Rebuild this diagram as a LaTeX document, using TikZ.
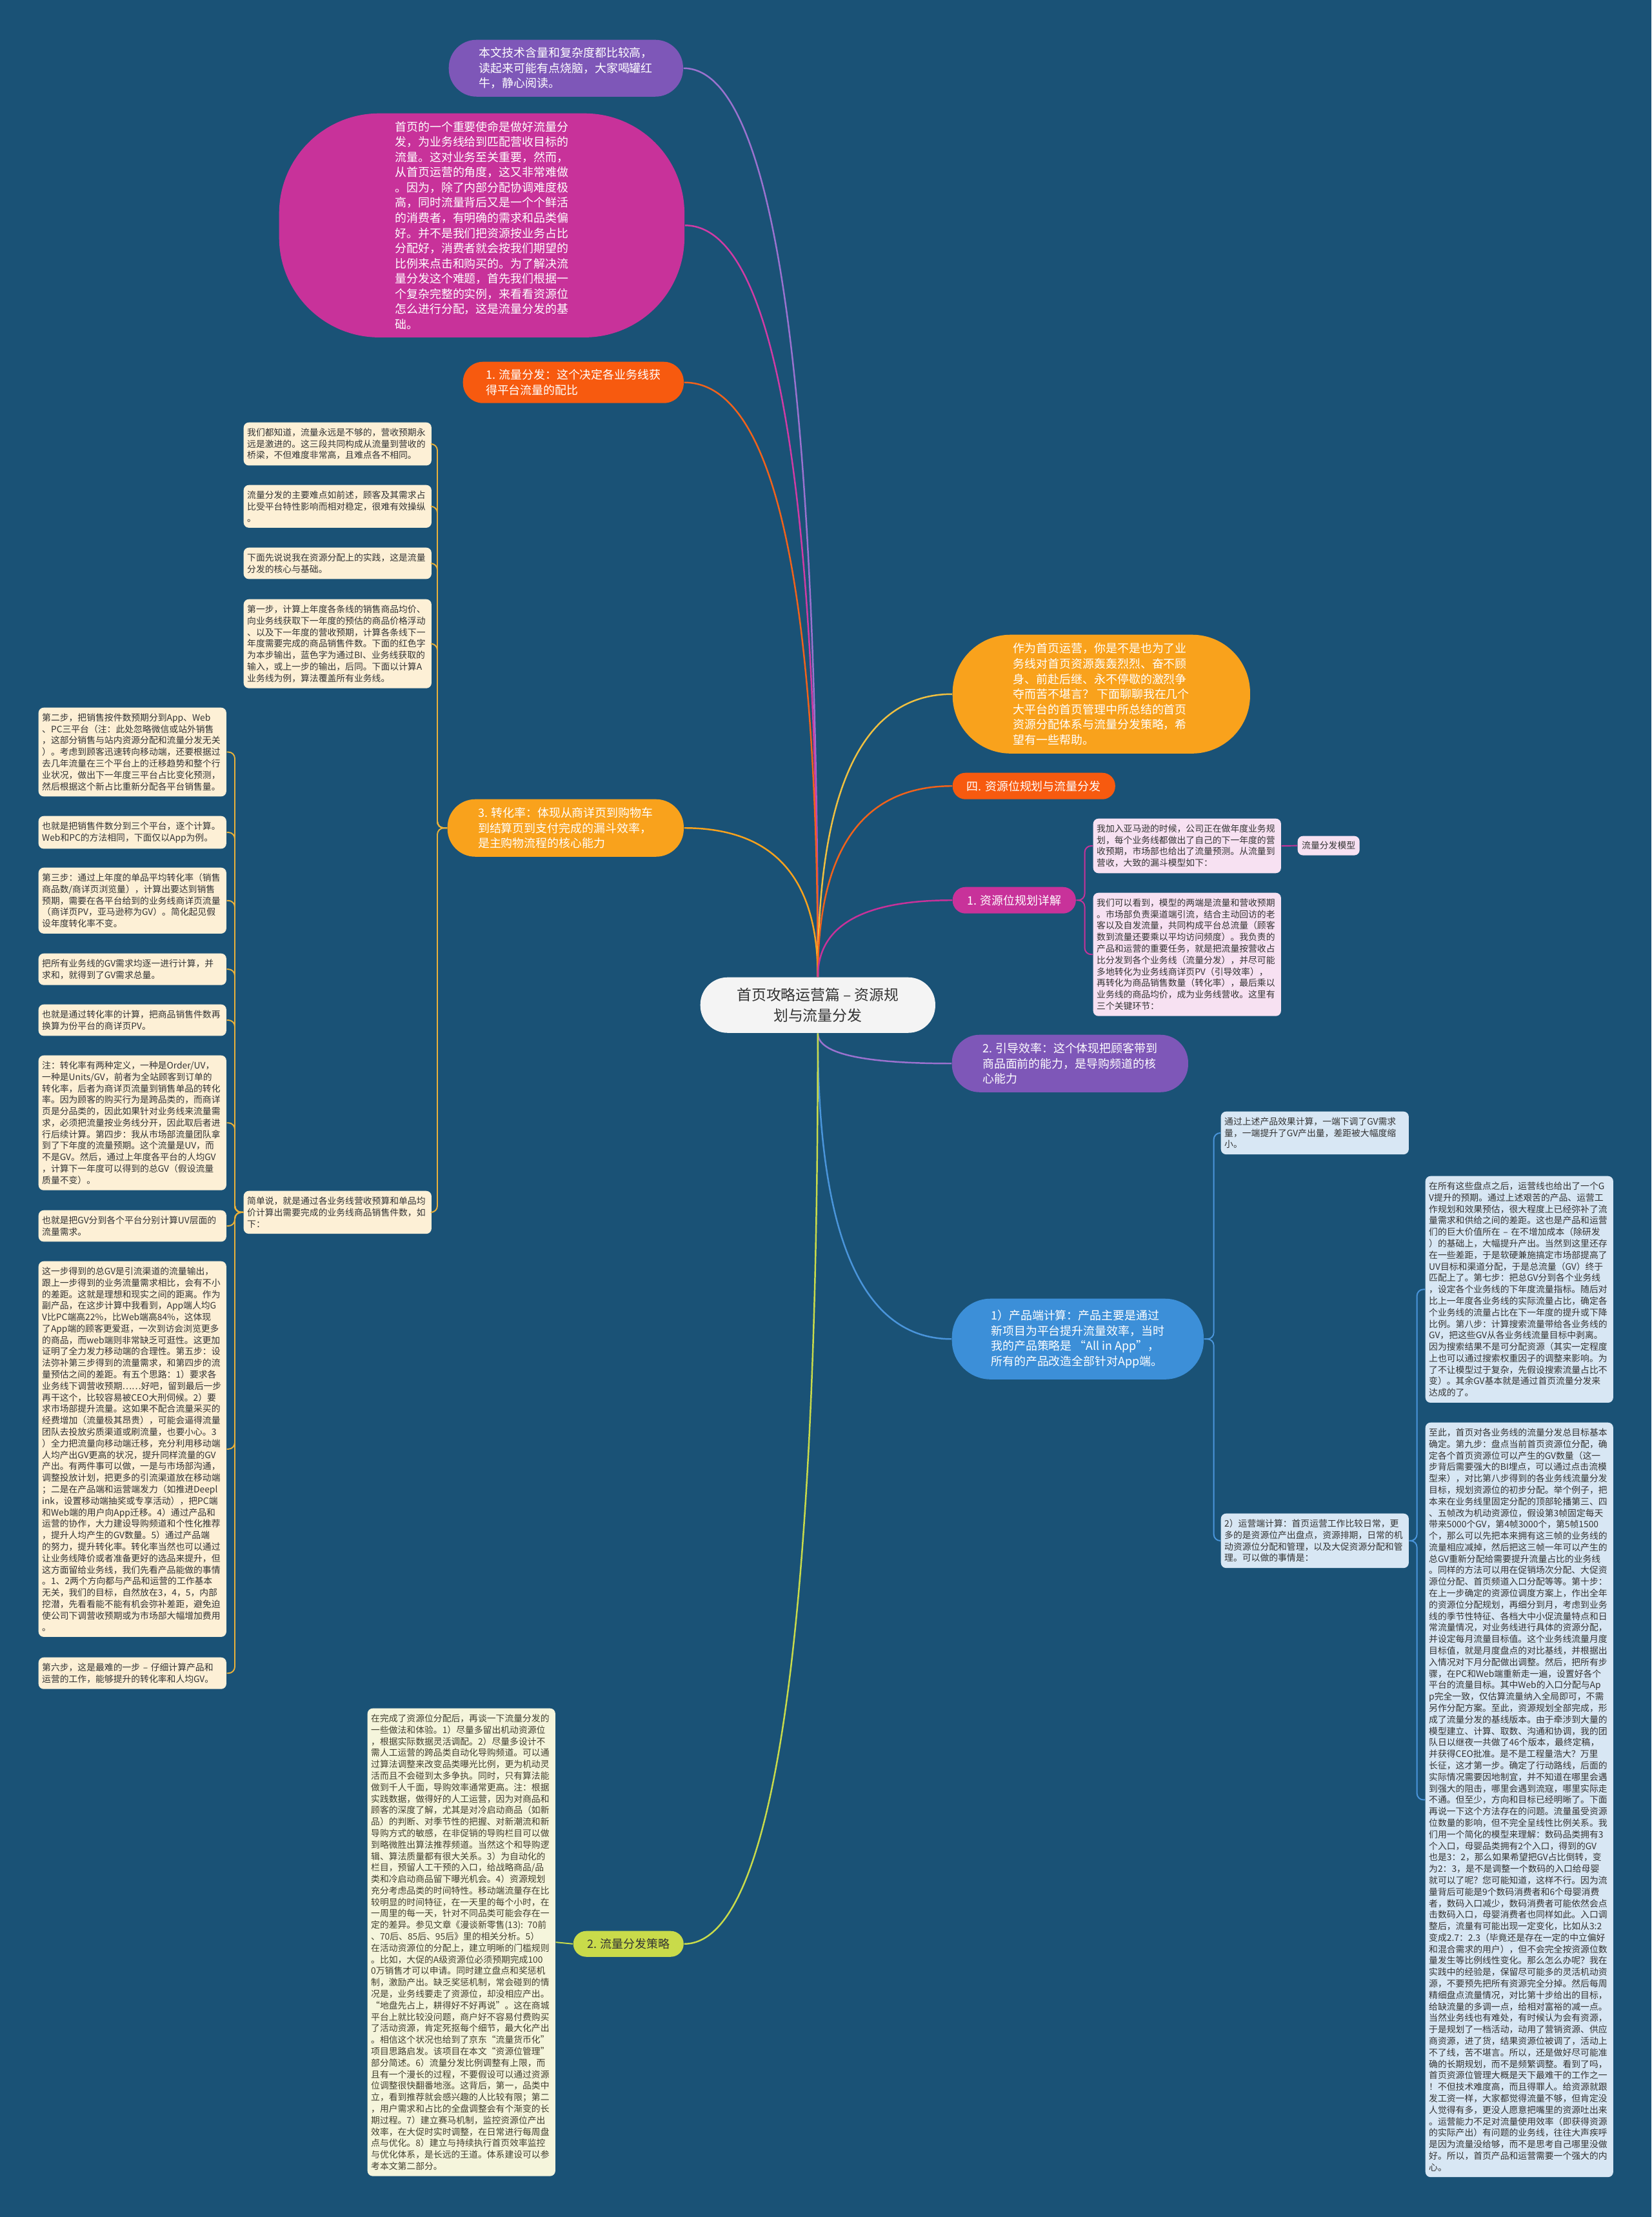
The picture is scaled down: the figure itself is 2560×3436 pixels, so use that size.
\documentclass[tikz,border=0pt]{standalone}
\usepackage{fontspec}
\setmainfont{Noto Sans CJK SC}
\usetikzlibrary{calc}
\definecolor{mapbg}{HTML}{1A5276}
\definecolor{hubwhite}{HTML}{F4F4F4}
\definecolor{inkdark}{HTML}{333333}
\definecolor{tpurple}{HTML}{7E57B8}
\definecolor{tmagenta}{HTML}{C8329A}
\definecolor{tred}{HTML}{F75A0F}
\definecolor{torange}{HTML}{F9A21C}
\definecolor{tblue}{HTML}{3C8FD8}
\definecolor{tlime}{HTML}{C9DB4A}
\definecolor{boxcream}{HTML}{FDF0D6}
\definecolor{boxpink}{HTML}{F7E1F2}
\definecolor{boxblue}{HTML}{D8E7F4}
\definecolor{boxlime}{HTML}{F5F5DC}
\definecolor{lpurple}{HTML}{9B72CF}
\definecolor{lmagenta}{HTML}{D13BA5}
\definecolor{lred}{HTML}{F2621A}
\definecolor{lyellow}{HTML}{F0C040}
\definecolor{lgold}{HTML}{E9B13A}
\definecolor{lblue}{HTML}{4A95DB}
\newcommand{\hubfont}{\fontsize{6.5pt}{9.1pt}\selectfont}
\newcommand{\bubfont}{\fontsize{5.1pt}{6.7pt}\selectfont}
\newcommand{\boxfont}{\fontsize{3.93pt}{5.06pt}\selectfont}
\tikzset{
  bubble/.style={anchor=north west, align=left, text=white, font=\bubfont, inner sep=0pt},
  note/.style={anchor=north west, align=left, text width=2.80cm, inner xsep=0.055cm, inner ysep=0.09cm, rounded corners=0.08cm, font=\boxfont},
  cream/.style={note, fill=boxcream, text=inkdark},
  pinknote/.style={note, fill=boxpink, text=inkdark},
  bluenote/.style={note, fill=boxblue, text=inkdark},
  limenote/.style={note, fill=boxlime, text=black!70!olive},
  hub/.style={line width=0.7pt, to path={let \p1=(\tikztostart), \p2=(\tikztotarget) in
    .. controls (\x1,{\y1+0.667*(\y2-\y1)}) and ({\x2+0.667*(\x1-\x2)},\y2) .. (\tikztotarget)}},
  twig/.style={line width=0.55pt, rounded corners=0.1cm},
}

\begin{document}
\begin{tikzpicture}[x=0.01cm, y=-0.01cm]
  \fill[mapbg] (0,0) rectangle (2560,3436);
  \useasboundingbox (0,0) rectangle (2560,3436);

  % root and main branches
  \node[bubble, fill=hubwhite, text=inkdark, font=\hubfont, align=center, minimum width=3.64cm, minimum height=0.86cm, rounded corners=0.42cm] (root) at (1085,1514) {首页攻略运营篇 – 资源规\\划与流量分发};
  \node[bubble, fill=tpurple, minimum width=3.63cm, minimum height=0.88cm, rounded corners=0.43cm] (intro) at (695,61) {本文技术含量和复杂度都比较高，\\读起来可能有点烧脑，大家喝罐红\\牛，静心阅读。};
  \node[bubble, fill=tmagenta, minimum width=6.28cm, minimum height=3.47cm, rounded corners=1.55cm] (mission) at (432,175) {首页的一个重要使命是做好流量分\\发，为业务线给到匹配营收目标的\\流量。这对业务至关重要，然而，\\从首页运营的角度，这又非常难做\\。因为，除了内部分配协调难度极\\高，同时流量背后又是一个个鲜活\\的消费者，有明确的需求和品类偏\\好。并不是我们把资源按业务占比\\分配好，消费者就会按我们期望的\\比例来点击和购买的。为了解决流\\量分发这个难题，首先我们根据一\\个复杂完整的实例，来看看资源位\\怎么进行分配，这是流量分发的基\\础。};
  \node[bubble, fill=tred, minimum width=3.42cm, minimum height=0.64cm, rounded corners=0.31cm] (liuliang) at (717,560) {1. 流量分发：这个决定各业务线获\\得平台流量的配比};
  \node[bubble, fill=torange, minimum width=3.66cm, minimum height=0.89cm, rounded corners=0.43cm] (zhuanhua) at (693,1238) {3. 转化率：体现从商详页到购物车\\到结算页到支付完成的漏斗效率，\\是主购物流程的核心能力};
  \node[bubble, fill=torange, minimum width=4.61cm, minimum height=1.84cm, rounded corners=0.9cm] (zuowei) at (1476,983) {作为首页运营，你是不是也为了业\\务线对首页资源轰轰烈烈、奋不顾\\身、前赴后继、永不停歇的激烈争\\夺而苦不堪言？ 下面聊聊我在几个\\大平台的首页管理中所总结的首页\\资源分配体系与流量分发策略，希\\望有一些帮助。};
  \node[bubble, fill=tred, minimum width=2.52cm, minimum height=0.41cm, rounded corners=0.2cm] (si) at (1476,1197) {四. 资源位规划与流量分发};
  \node[bubble, fill=tmagenta, minimum width=1.91cm, minimum height=0.41cm, rounded corners=0.2cm] (guihua) at (1476,1374) {1. 资源位规划详解};
  \node[bubble, fill=tpurple, minimum width=3.66cm, minimum height=0.89cm, rounded corners=0.43cm] (yindao) at (1475,1603) {2. 引导效率：这个体现把顾客带到\\商品面前的能力，是导购频道的核\\心能力};
  \node[bubble, fill=tblue, minimum width=3.90cm, minimum height=1.25cm, rounded corners=0.6cm] (chanpin) at (1475,2012) {1）产品端计算：产品主要是通过\\新项目为平台提升流量效率，当时\\我的产品策略是 “All in App”，\\所有的产品改造全部针对App端。};
  \node[bubble, fill=tlime, text=inkdark, minimum width=1.71cm, minimum height=0.40cm, rounded corners=0.2cm] (celue) at (888,2992) {2. 流量分发策略};

  % conversion-rate notes
  \node[cream] (s1) at (377,654) {我们都知道，流量永远是不够的，营收预期永\\远是激进的。这三段共同构成从流量到营收的\\桥梁，不但难度非常高，且难点各不相同。};
  \node[cream] (s2) at (377,751) {流量分发的主要难点如前述，顾客及其需求占\\比受平台特性影响而相对稳定，很难有效操纵\\。};
  \node[cream] (s3) at (377,848) {下面先说说我在资源分配上的实践，这是流量\\分发的核心与基础。};
  \node[cream] (s4) at (377,928) {第一步，计算上年度各条线的销售商品均价、\\向业务线获取下一年度的预估的商品价格浮动\\、以及下一年度的营收预期，计算各条线下一\\年度需要完成的商品销售件数。下面的红色字\\为本步输出，蓝色字为通过BI、业务线获取的\\输入，或上一步的输出，后同。下面以计算A\\业务线为例，算法覆盖所有业务线。};
  \node[cream] (jd) at (377,1845) {简单说，就是通过各业务线营收预算和单品均\\价计算出需要完成的业务线商品销售件数，如\\下：};

  \node[cream] (f1) at (59,1096) {第二步，把销售按件数预期分到App、Web\\、PC三平台（注：此处忽略微信或站外销售\\，这部分销售与站内资源分配和流量分发无关\\）。考虑到顾客迅速转向移动端，还要根据过\\去几年流量在三个平台上的迁移趋势和整个行\\业状况，做出下一年度三平台占比变化预测，\\然后根据这个新占比重新分配各平台销售量。};
  \node[cream] (f2) at (59,1264) {也就是把销售件数分到三个平台，逐个计算。\\Web和PC的方法相同，下面仅以App为例。};
  \node[cream] (f3) at (59,1344) {第三步：通过上年度的单品平均转化率（销售\\商品数/商详页浏览量），计算出要达到销售\\预期，需要在各平台给到的业务线商详页流量\\（商详页PV，亚马逊称为GV）。简化起见假\\设年度转化率不变。};
  \node[cream] (f4) at (59,1477) {把所有业务线的GV需求均逐一进行计算，并\\求和，就得到了GV需求总量。};
  \node[cream] (f5) at (59,1556) {也就是通过转化率的计算，把商品销售件数再\\换算为份平台的商详页PV。};
  \node[cream] (f6) at (59,1635) {注：转化率有两种定义，一种是Order/UV，\\一种是Units/GV，前者为全站顾客到订单的\\转化率，后者为商详页流量到销售单品的转化\\率。因为顾客的购买行为是跨品类的，而商详\\页是分品类的，因此如果针对业务线来流量需\\求，必须把流量按业务线分开，因此取后者进\\行后续计算。第四步：我从市场部流量团队拿\\到了下年度的流量预期。这个流量是UV，而\\不是GV。然后，通过上年度各平台的人均GV\\，计算下一年度可以得到的总GV（假设流量\\质量不变）。};
  \node[cream] (f7) at (59,1875) {也就是把GV分到各个平台分别计算UV层面的\\流量需求。};
  \node[cream] (f8) at (59,1954) {这一步得到的总GV是引流渠道的流量输出，\\跟上一步得到的业务流量需求相比，会有不小\\的差距。这就是理想和现实之间的距离。作为\\副产品，在这步计算中我看到，App端人均G\\V比PC端高22\%，比Web端高84\%，这体现\\了App端的顾客更爱逛，一次到访会浏览更多\\的商品，而web端则非常缺乏可逛性。这更加\\证明了全力发力移动端的合理性。第五步：设\\法弥补第三步得到的流量需求，和第四步的流\\量预估之间的差距。有五个思路：1）要求各\\业务线下调营收预期……好吧，留到最后一步\\再干这个，比较容易被CEO大刑伺候。2）要\\求市场部提升流量。这如果不配合流量采买的\\经费增加（流量极其昂贵），可能会逼得流量\\团队去投放劣质渠道或刷流量，也要小心。3\\）全力把流量向移动端迁移，充分利用移动端\\人均产出GV更高的状况，提升同样流量的GV\\产出。有两件事可以做，一是与市场部沟通，\\调整投放计划，把更多的引流渠道放在移动端\\；二是在产品端和运营端发力（如推进Deepl\\ink，设置移动端抽奖或专享活动），把PC端\\和Web端的用户向App迁移。4）通过产品和\\运营的协作，大力建设导购频道和个性化推荐\\，提升人均产生的GV数量。5）通过产品端\\的努力，提升转化率。转化率当然也可以通过\\让业务线降价或者准备更好的选品来提升，但\\这方面留给业务线，我们先看产品能做的事情\\。1、2两个方向都与产品和运营的工作基本\\无关，我们的目标，自然放在3，4，5，内部\\挖潜，先看看能不能有机会弥补差距，避免迫\\使公司下调营收预期或为市场部大幅增加费用\\。};
  \node[cream] (f9) at (59,2568) {第六步，这是最难的一步 – 仔细计算产品和\\运营的工作，能够提升的转化率和人均GV。};

  % resource planning notes
  \node[pinknote] (p1) at (1694,1268) {我加入亚马逊的时候，公司正在做年度业务规\\划，每个业务线都做出了自己的下一年度的营\\收预期，市场部也给出了流量预测。从流量到\\营收，大致的漏斗模型如下：};
  \node[pinknote] (p2) at (1694,1383) {我们可以看到，模型的两端是流量和营收预期\\。市场部负责渠道端引流，结合主动回访的老\\客以及自发流量，共同构成平台总流量（顾客\\数到流量还要乘以平均访问频度）。我负责的\\产品和运营的重要任务，就是把流量按营收占\\比分发到各个业务线（流量分发），并尽可能\\多地转化为业务线商详页PV（引导效率），\\再转化为商品销售数量（转化率），最后乘以\\业务线的商品均价，成为业务线营收。这里有\\三个关键环节：};
  \node[anchor=north west, fill=boxpink, text=inkdark, rounded corners=0.08cm, inner xsep=0.065cm, inner ysep=0.085cm, font=\boxfont] (model) at (2011,1295) {流量分发模型};

  % product and operations notes
  \node[bluenote] (q1) at (1892,1722) {通过上述产品效果计算，一端下调了GV需求\\量，一端提升了GV产出量，差距被大幅度缩\\小。};
  \node[bluenote] (q2) at (1892,2345) {2）运营端计算：首页运营工作比较日常，更\\多的是资源位产出盘点，资源排期，日常的机\\动资源位分配和管理，以及大促资源分配和管\\理。可以做的事情是：};
  \node[bluenote] (r1) at (2209,1822) {在所有这些盘点之后，运营线也给出了一个G\\V提升的预期。通过上述艰苦的产品、运营工\\作规划和效果预估，很大程度上已经弥补了流\\量需求和供给之间的差距。这也是产品和运营\\们的巨大价值所在 – 在不增加成本（除研发\\）的基础上，大幅提升产出。当然到这里还存\\在一些差距，于是软硬兼施搞定市场部提高了\\UV目标和渠道分配，于是总流量（GV）终于\\匹配上了。第七步：把总GV分到各个业务线\\，设定各个业务线的下年度流量指标。随后对\\比上一年度各业务线的实际流量占比，确定各\\个业务线的流量占比在下一年度的提升或下降\\比例。第八步：计算搜索流量带给各业务线的\\GV，把这些GV从各业务线流量目标中剥离。\\因为搜索结果不是可分配资源（其实一定程度\\上也可以通过搜索权重因子的调整来影响。为\\了不让模型过于复杂，先假设搜索流量占比不\\变）。其余GV基本就是通过首页流量分发来\\达成的了。};
  \node[bluenote] (r2) at (2209,2204) {至此，首页对各业务线的流量分发总目标基本\\确定。第九步：盘点当前首页资源位分配，确\\定各个首页资源位可以产生的GV数量（这一\\步背后需要强大的BI埋点，可以通过点击流模\\型来），对比第八步得到的各业务线流量分发\\目标，规划资源位的初步分配。举个例子，把\\本来在业务线里固定分配的顶部轮播第三、四\\、五帧改为机动资源位，假设第3帧固定每天\\带来5000个GV，第4帧3000个，第5帧1500\\个，那么可以先把本来拥有这三帧的业务线的\\流量相应减掉，然后把这三帧一年可以产生的\\总GV重新分配给需要提升流量占比的业务线\\。同样的方法可以用在促销场次分配、大促资\\源位分配、首页频道入口分配等等。第十步：\\在上一步确定的资源位调度方案上，作出全年\\的资源位分配规划，再细分到月，考虑到业务\\线的季节性特征、各档大中小促流量特点和日\\常流量情况，对业务线进行具体的资源分配，\\并设定每月流量目标值。这个业务线流量月度\\目标值，就是月度盘点的对比基线，并根据出\\入情况对下月分配做出调整。然后，把所有步\\骤，在PC和Web端重新走一遍，设置好各个\\平台的流量目标。其中Web的入口分配与Ap\\p完全一致，仅估算流量纳入全局即可，不需\\另作分配方案。至此，资源规划全部完成，形\\成了流量分发的基线版本。由于牵涉到大量的\\模型建立、计算、取数、沟通和协调，我的团\\队日以继夜一共做了46个版本，最终定稿，\\并获得CEO批准。是不是工程量浩大？万里\\长征，这才第一步。确定了行动路线，后面的\\实际情况需要因地制宜，并不知道在哪里会遇\\到强大的阻击，哪里会遇到流寇，哪里实际走\\不通。但至少，方向和目标已经明晰了。下面\\再说一下这个方法存在的问题。流量虽受资源\\位数量的影响，但不完全呈线性比例关系。我\\们用一个简化的模型来理解：数码品类拥有3\\个入口，母婴品类拥有2个入口，得到的GV\\也是3：2，那么如果希望把GV占比倒转，变\\为2：3，是不是调整一个数码的入口给母婴\\就可以了呢？您可能知道，这样不行。因为流\\量背后可能是9个数码消费者和6个母婴消费\\者，数码入口减少，数码消费者可能依然会点\\击数码入口，母婴消费者也同样如此。入口调\\整后，流量有可能出现一定变化，比如从3:2\\变成2.7：2.3（毕竟还是存在一定的中立偏好\\和混合需求的用户），但不会完全按资源位数\\量发生等比例线性变化。那么怎么办呢？我在\\实践中的经验是，保留尽可能多的灵活机动资\\源，不要预先把所有资源完全分掉。然后每周\\精细盘点流量情况，对比第十步给出的目标，\\给缺流量的多调一点，给相对富裕的减一点。\\当然业务线也有难处，有时候认为会有资源，\\于是规划了一档活动，动用了营销资源、供应\\商资源，进了货，结果资源位被调了，活动上\\不了线，苦不堪言。所以，还是做好尽可能准\\确的长期规划，而不是频繁调整。看到了吗，\\首页资源位管理大概是天下最难干的工作之一\\！不但技术难度高，而且得罪人。给资源就跟\\发工资一样，大家都觉得流量不够，但肯定没\\人觉得有多，更没人愿意把嘴里的资源吐出来\\。运营能力不足对流量使用效率（即获得资源\\的实际产出）有问题的业务线，往往大声疾呼\\是因为流量没给够，而不是思考自己哪里没做\\好。所以，首页产品和运营需要一个强大的内\\心。};

  % distribution strategy note
  \node[limenote] (btm) at (569,2647) {在完成了资源位分配后，再谈一下流量分发的\\一些做法和体验。1）尽量多留出机动资源位\\，根据实际数据灵活调配。2）尽量多设计不\\需人工运营的跨品类自动化导购频道。可以通\\过算法调整来改变品类曝光比例，更为机动灵\\活而且不会碰到太多争执。同时，只有算法能\\做到千人千面，导购效率通常更高。注：根据\\实践数据，做得好的人工运营，因为对商品和\\顾客的深度了解，尤其是对冷启动商品（如新\\品）的判断、对季节性的把握、对新潮流和新\\导购方式的敏感，在非促销的导购栏目可以做\\到略微胜出算法推荐频道。当然这个和导购逻\\辑、算法质量都有很大关系。3）为自动化的\\栏目，预留人工干预的入口，给战略商品/品\\类和冷启动商品留下曝光机会。4）资源规划\\充分考虑品类的时间特性。移动端流量存在比\\较明显的时间特征，在一天里的每个小时，在\\一周里的每一天，针对不同品类可能会存在一\\定的差异。参见文章《漫谈新零售(13): 70前\\、70后、85后、95后》里的相关分析。5）\\在活动资源位的分配上，建立明晰的门槛规则\\。比如，大促的A级资源位必须预期完成100\\0万销售才可以申请。同时建立盘点和奖惩机\\制，激励产出。缺乏奖惩机制，常会碰到的情\\况是，业务线要走了资源位，却没相应产出。\\“地盘先占上，耕得好不好再说”。这在商城\\平台上就比较没问题，商户好不容易付费购买\\了活动资源，肯定死抠每个细节，最大化产出\\。相信这个状况也给到了京东“流量货币化”\\项目思路启发。该项目在本文“资源位管理”\\部分简述。6）流量分发比例调整有上限，而\\且有一个漫长的过程，不要假设可以通过资源\\位调整很快翻番地涨。这背后，第一，品类中\\立，看到推荐就会感兴趣的人比较有限；第二\\，用户需求和占比的全盘调整会有个渐变的长\\期过程。7）建立赛马机制，监控资源位产出\\效率，在大促时实时调整，在日常进行每周盘\\点与优化。8）建立与持续执行首页效率监控\\与优化体系，是长远的王道。体系建设可以参\\考本文第二部分。};

  % connectors from the root
  \draw[hub, lpurple] (root.north) to (intro.east);
  \draw[hub, lmagenta] (root.north) to (mission.east);
  \draw[hub, lred] (root.north) to (liuliang.east);
  \draw[hub, torange] (root.north) to (zhuanhua.east);
  \draw[hub, lyellow] (root.north) to (zuowei.west);
  \draw[hub, lred] (root.north) to (si.west);
  \draw[hub, tmagenta] (root.north) to (guihua.west);
  \draw[hub, lpurple] (root.south) to (yindao.west);
  \draw[hub, lblue] (root.south) to (chanpin.west);
  \draw[hub, tlime] (root.south) to (celue.east);

  % connectors to the notes
  \draw[twig, lgold] (zhuanhua.west) -- ++(-15,0) |- (s1.east);
  \draw[twig, lgold] (zhuanhua.west) -- ++(-15,0) |- (s2.east);
  \draw[twig, lgold] (zhuanhua.west) -- ++(-15,0) |- (s3.east);
  \draw[twig, lgold] (zhuanhua.west) -- ++(-15,0) |- (s4.east);
  \draw[twig, lgold] (zhuanhua.west) -- ++(-15,0) |- (jd.east);
  \draw[twig, lgold] (jd.west) -- ++(-13,0) |- (f1.east);
  \draw[twig, lgold] (jd.west) -- ++(-13,0) |- (f2.east);
  \draw[twig, lgold] (jd.west) -- ++(-13,0) |- (f3.east);
  \draw[twig, lgold] (jd.west) -- ++(-13,0) |- (f4.east);
  \draw[twig, lgold] (jd.west) -- ++(-13,0) |- (f5.east);
  \draw[twig, lgold] (jd.west) -- ++(-13,0) |- (f6.east);
  \draw[twig, lgold] (jd.west) -- ++(-13,0) |- (f7.east);
  \draw[twig, lgold] (jd.west) -- ++(-13,0) |- (f8.east);
  \draw[twig, lgold] (jd.west) -- ++(-13,0) |- (f9.east);
  \draw[twig, tmagenta] (guihua.east) -- ++(13,0) |- (p1.west);
  \draw[twig, tmagenta] (guihua.east) -- ++(13,0) |- (p2.west);
  \draw[twig, tmagenta] (p1.east) -- (model.west);
  \draw[twig, lblue] (chanpin.east) -- ++(15,0) |- (q1.west);
  \draw[twig, lblue] (chanpin.east) -- ++(15,0) |- (q2.west);
  \draw[twig, lblue] (q2.east) -- ++(12,0) |- (r1.west);
  \draw[twig, lblue] (q2.east) -- ++(12,0) |- (r2.west);
  \draw[twig, tlime] (celue.west) -- (btm.east);
\end{tikzpicture}
\end{document}
